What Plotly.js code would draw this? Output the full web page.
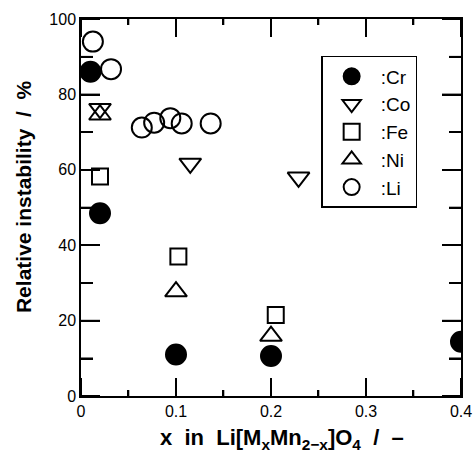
<!DOCTYPE html>
<html><head><meta charset="utf-8">
<script src="https://cdn.plot.ly/plotly-3.0.1.min.js"></script>
<style>html,body{margin:0;padding:0;background:#fff}</style>
</head><body>
<div id="chart" style="width:475px;height:452px"></div>
<script>
const crX = [0.01, 0.02, 0.1, 0.2, 0.4];
const crY = [86, 48.5, 11, 10.6, 14.4];
const coX = [0.02, 0.115, 0.229];
const coY = [76.2, 61.7, 58];
const feX = [0.02, 0.1025, 0.205];
const feY = [58.2, 37, 21.5];
const niX = [0.02, 0.1, 0.2];
const niY = [74.6, 27.7, 15.9];
const liX = [0.0125, 0.0316, 0.064, 0.077, 0.094, 0.106, 0.1365];
const liY = [94, 86.7, 71.2, 72.5, 73.7, 72.3, 72.3];
const names = [':Cr', ':Co', ':Fe', ':Ni', ':Li'];
const xTicks = [0, 0.1, 0.2, 0.3, 0.4];
const xTickText = ['0', '0.1', '0.2', '0.3', '0.4'];
const xMinor = [0.05, 0.15, 0.25, 0.35];
const yTicks = [0, 20, 40, 60, 80, 100];
const yMinor = [10, 30, 50, 70, 90];
const xRange = [0, 0.4];
const yRange = [0, 100];
const xTitle = 'x\u00a0\u00a0in\u00a0\u00a0Li[M<sub>x</sub>Mn<sub>2\u2212x</sub>]O<sub>4</sub>\u00a0\u00a0/\u00a0\u00a0\u2013';
const yTitle = 'Relative instability\u00a0\u00a0/\u00a0\u00a0%';

// plot frame size in px, used only to turn tick lengths (px) into axis units
const plotW = 475 - 81 - 14, plotH = 452 - 19 - 56;
const xPerPx = (xRange[1] - xRange[0]) / plotW;
const yPerPx = (yRange[1] - yRange[0]) / plotH;
const tickW = 1.6;

const lineBlack = {color: '#000', width: 2};
const traces = [];

// inside tick marks on all four sides, drawn as thin bars built from the tick arrays
const vx = [], vBase = [], vLen = [];
function xTick(v, lenPx) {
  const d = lenPx * yPerPx;
  vx.push(v, v); vBase.push(yRange[0], yRange[1] - d); vLen.push(d, d);
}
const hy = [], hBase = [], hLen = [];
function yTick(v, lenPx) {
  const d = lenPx * xPerPx;
  hy.push(v, v); hBase.push(xRange[0], xRange[1] - d); hLen.push(d, d);
}
xTicks.forEach(v => xTick(v, 18));
xMinor.forEach(v => xTick(v, 6));
yTicks.forEach(v => yTick(v, 19));
yMinor.forEach(v => yTick(v, 12));
traces.push({type: 'bar', orientation: 'v', x: vx, y: vLen, base: vBase,
  width: tickW * xPerPx, showlegend: false, hoverinfo: 'skip',
  marker: {color: '#000', line: {width: 0}}});
traces.push({type: 'bar', orientation: 'h', y: hy, x: hLen, base: hBase,
  width: tickW * yPerPx, showlegend: false, hoverinfo: 'skip',
  marker: {color: '#000', line: {width: 0}}});

traces.push(
  {x: crX, y: crY, name: names[0], mode: 'markers', type: 'scatter',
   marker: {symbol: 'circle', size: 20, color: '#000', line: lineBlack}},
  {x: coX, y: coY, name: names[1], mode: 'markers', type: 'scatter',
   marker: {symbol: 'triangle-down-open', size: 19, color: '#000', line: lineBlack}},
  {x: feX, y: feY, name: names[2], mode: 'markers', type: 'scatter',
   marker: {symbol: 'square-open', size: 16, color: '#000', line: lineBlack}},
  {x: niX, y: niY, name: names[3], mode: 'markers', type: 'scatter',
   marker: {symbol: 'triangle-up-open', size: 19, color: '#000', line: lineBlack}},
  {x: liX, y: liY, name: names[4], mode: 'markers', type: 'scatter',
   marker: {symbol: 'circle-open', size: 20, color: '#000', line: lineBlack}}
);

const fontFam = 'Liberation Sans, Arial, sans-serif';
const layout = {
  width: 475, height: 452,
  margin: {l: 81, r: 14, t: 19, b: 56},
  paper_bgcolor: '#fff', plot_bgcolor: '#fff',
  font: {family: fontFam, color: '#000', size: 16},
  barmode: 'overlay',
  showlegend: true,
  legend: {x: 0.632, y: 0.902, xanchor: 'left', yanchor: 'top',
    bordercolor: '#000', borderwidth: 1.5, bgcolor: '#fff', itemwidth: 48,
    font: {size: 19, family: fontFam, color: '#000'}},
  xaxis: {range: xRange, autorange: false, tickmode: 'array', tickvals: xTicks, ticktext: xTickText,
    showline: true, linecolor: '#000', linewidth: 1.5, mirror: true,
    ticks: '', showgrid: false, zeroline: false, tickfont: {size: 16}},
  yaxis: {range: yRange, autorange: false, tickmode: 'array', tickvals: yTicks,
    showline: true, linecolor: '#000', linewidth: 1.5, mirror: true,
    ticks: '', showgrid: false, zeroline: false, tickfont: {size: 16}},
  annotations: [
    {text: xTitle, xref: 'paper', yref: 'paper', x: 0.529, y: -0.114, xanchor: 'center', yanchor: 'middle',
     showarrow: false, font: {size: 22, weight: 'bold', family: fontFam, color: '#000'}},
    {text: yTitle, xref: 'paper', yref: 'paper', x: -0.153, y: 0.53, xanchor: 'center', yanchor: 'middle',
     textangle: -90, showarrow: false, font: {size: 21, weight: 'bold', family: fontFam, color: '#000'}}
  ]
};
Plotly.newPlot('chart', traces, layout, {displayModeBar: false});
</script>
</body></html>
